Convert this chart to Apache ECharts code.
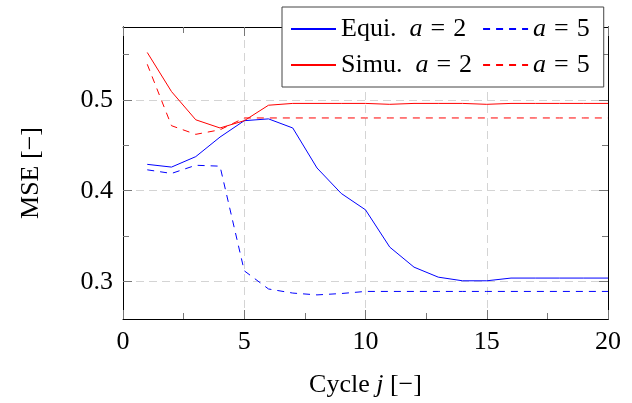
<!DOCTYPE html>
<html>
<head>
<meta charset="utf-8">
<script src="https://cdn.jsdelivr.net/npm/echarts@6/dist/echarts.min.js"></script>
<style>
  html, body { margin: 0; padding: 0; background: #fff; }
  #chart { width: 632px; height: 403px; }
</style>
</head>
<body>
<div id="chart"></div>
<script>
// cycles j = 1..20
const cycles = [1, 2, 3, 4, 5, 6, 7, 8, 9, 10, 11, 12, 13, 14, 15, 16, 17, 18, 19, 20];

const equiA2 = [0.429, 0.426, 0.4375, 0.459, 0.477, 0.479, 0.469, 0.425, 0.397, 0.379,
                0.338, 0.316, 0.305, 0.301, 0.301, 0.304, 0.304, 0.304, 0.304, 0.304];
const equiA5 = [0.423, 0.419, 0.428, 0.427, 0.312, 0.292, 0.2875, 0.2855, 0.287, 0.2893,
                0.2893, 0.2893, 0.2893, 0.2893, 0.2893, 0.2893, 0.2893, 0.2893, 0.2893, 0.2893];
const simuA2 = [0.552, 0.509, 0.478, 0.469, 0.477, 0.494, 0.496, 0.496, 0.496, 0.496,
                0.495, 0.496, 0.496, 0.496, 0.495, 0.496, 0.496, 0.496, 0.496, 0.496];
const simuA5 = [0.539, 0.4715, 0.462, 0.467, 0.480, 0.480, 0.480, 0.480, 0.480, 0.480,
                0.480, 0.480, 0.480, 0.480, 0.480, 0.480, 0.480, 0.480, 0.480, 0.480];

const yMajor = [0.3, 0.4, 0.5];
const yMinor = [0.35, 0.45, 0.55];

const FONT = "Liberation Serif";
const FS = 26;

function pts(vals) {
    return cycles.map((c, i) => [c, vals[i]]);
}

let chart = echarts.init(document.getElementById("chart"));

const gridLine = { show: true, lineStyle: { color: "#d4d4d4", type: [8, 5], width: 1 } };
const frame = { show: true, lineStyle: { color: "#000", width: 1 } };

function xAx(pos, main) {
    return {
        type: "value", position: pos, min: 0, max: 20, interval: 5,
        axisLine: frame,
        axisTick: { show: true, inside: true, length: 9, lineStyle: { color: "#777" } },
        minorTick: { show: true, splitNumber: 2, length: 6, lineStyle: { color: "#777" } },
        axisLabel: { show: main, margin: 10, color: "#000", fontFamily: FONT, fontSize: FS },
        splitLine: main ? gridLine : { show: false },
        name: main ? "{r|Cycle }{i|j}{r| [\u2212]}" : "",
        nameLocation: "middle", nameGap: 53,
        nameTextStyle: {
            rich: {
                r: { fontFamily: FONT, fontSize: FS, color: "#000" },
                i: { fontFamily: FONT, fontSize: FS, fontStyle: "italic", color: "#000" }
            }
        }
    };
}

function yAx(pos, values, len, main, label) {
    return {
        type: "value", position: pos, min: 0.259, max: 0.58,
        axisLine: frame,
        axisTick: { show: true, inside: true, length: len, customValues: values, lineStyle: { color: "#777" } },
        axisLabel: { show: label, customValues: values, margin: 10, color: "#000", fontFamily: FONT, fontSize: FS },
        splitLine: main ? gridLine : { show: false },
        name: label ? "MSE [\u2212]" : "",
        nameLocation: "middle", nameGap: 79, nameRotate: 90,
        nameTextStyle: { fontFamily: FONT, fontSize: FS, color: "#000" }
    };
}

function line(name, vals, color, dashed) {
    return {
        name: name, type: "line", xAxisIndex: 0, yAxisIndex: 0,
        data: pts(vals), symbol: "none", silent: true,
        lineStyle: { color: color, width: 1, type: dashed ? [7, 6] : "solid" },
        itemStyle: { color: color }
    };
}

const legendText = {
    "Equi. a = 2": "{r|Equi.  }{i|a}{e|=}{r|2}",
    "Simu. a = 2": "{r|Simu.  }{i|a}{e|=}{r|2}",
    "Equi. a = 5": "{i|a}{e|=}{r|5}",
    "Simu. a = 5": "{i|a}{e|=}{r|5}"
};

const rich = {
    r: { fontFamily: FONT, fontSize: FS, color: "#000", lineHeight: 24 },
    i: { fontFamily: FONT, fontSize: FS, fontStyle: "italic", color: "#000", lineHeight: 24 },
    e: { fontFamily: FONT, fontSize: FS, color: "#000", lineHeight: 24, padding: [0, 8] }
};

chart.setOption({
    animation: false,
    grid: { left: 123, right: 24, top: 27, bottom: 79 },
    legend: {
        orient: "vertical", left: 282, top: 7, height: 66,
        padding: [9, 14, 9, 8], itemGap: 10, itemWidth: 45, itemHeight: 14,
        backgroundColor: "#fff", borderColor: "#444", borderWidth: 1,
        itemStyle: { color: "rgba(0,0,0,0)", borderColor: "rgba(0,0,0,0)", borderWidth: 0 },
        data: ["Equi. a = 2", "Simu. a = 2", "Equi. a = 5", "Simu. a = 5"],
        formatter: name => legendText[name],
        textStyle: { lineHeight: 24, rich: rich }
    },
    xAxis: [xAx("bottom", true), xAx("top", false)],
    yAxis: [
        yAx("left", yMajor, 9, true, true),
        yAx("left", yMinor, 6, false, false),
        yAx("right", yMajor, 9, false, false),
        yAx("right", yMinor, 6, false, false)
    ],
    series: [
        line("Equi. a = 2", equiA2, "#0000ff", false),
        line("Equi. a = 5", equiA5, "#0000ff", true),
        line("Simu. a = 2", simuA2, "#ff0000", false),
        line("Simu. a = 5", simuA5, "#ff0000", true)
    ]
});
</script>
</body>
</html>
